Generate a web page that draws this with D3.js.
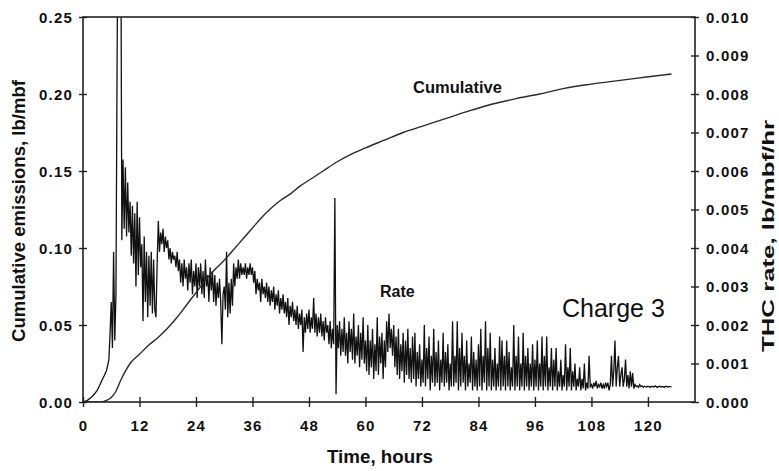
<!DOCTYPE html>
<html>
<head>
<meta charset="utf-8">
<script src="https://cdn.jsdelivr.net/npm/d3@7"></script>
<style>
  html, body { margin: 0; padding: 0; background: #fff; }
  svg { display: block; }
  text { font-family: "Liberation Sans", Arial, Helvetica, sans-serif; fill: #111; }
</style>
</head>
<body>
<svg id="chart" width="779" height="471"></svg>
<script>
// ---------- DATA ----------
const xTicks = [0, 12, 24, 36, 48, 60, 72, 84, 96, 108, 120];
const leftTicks = [0, 0.05, 0.10, 0.15, 0.20, 0.25];
const rightTicks = [0, 0.001, 0.002, 0.003, 0.004, 0.005, 0.006, 0.007, 0.008, 0.009, 0.010];

// Cumulative emissions (lb/mbf) vs time (hours)
const cumTime = [0, 4, 5, 6, 7, 8, 9, 10, 12, 14, 16, 18, 20, 22, 24, 26, 28, 30, 32, 34, 36, 38, 40, 42, 44, 46, 48, 51, 54, 57, 60, 64, 68, 72, 77, 82, 87, 92, 97, 102, 107, 112, 117, 121, 125];
const cumValue = [0, 0, 0.001, 0.003, 0.007, 0.014, 0.020, 0.025, 0.031, 0.037, 0.042, 0.048, 0.055, 0.063, 0.071, 0.079, 0.086, 0.092, 0.099, 0.106, 0.113, 0.120, 0.126, 0.131, 0.135, 0.140, 0.144, 0.150, 0.156, 0.161, 0.165, 0.170, 0.175, 0.179, 0.184, 0.189, 0.1935, 0.197, 0.200, 0.2035, 0.206, 0.208, 0.210, 0.2115, 0.213];

// THC rate, in units of 0.001 lb/mbf/hr
// early smooth rise
const rateEarlyTime = [0, 0.5, 1, 1.5, 2, 2.5, 3, 3.5, 4, 4.5, 5];
const rateEarly = [0, 0.02, 0.05, 0.10, 0.15, 0.22, 0.30, 0.42, 0.56, 0.68, 0.82];
// logged readings every 0.25 h from 5.5 h to 125 h
const rateStart = 5.5, rateStep = 0.25;
const rateLogged = [
  1.1, 1.8, 2.6, 1.4, 3.9, 1.6, 2.8, 9, 14, 14, 14, 4.2, 6.3, 4.5, 6.1, 4.3, 5.7, 4.4, 5.2, 3.8,
  5.1, 3.6, 4.9, 3.0, 5.2, 3.3, 4.8, 3.5, 4.1, 2.1, 4.3, 2.6, 3.9, 2.2, 3.8, 2.5, 3.9, 2.3, 3.7, 2.4,
  2.2, 3.6, 4.7, 3.9, 4.4, 4.1, 4.5, 3.9, 4.3, 4.0, 4.2, 3.7, 4.0, 3.6, 3.9, 3.7, 3.8, 3.5, 3.9, 3.4,
  3.7, 3.1, 3.6, 3.0, 3.7, 3.2, 3.5, 2.9, 3.6, 3.1, 3.7, 2.8, 3.4, 3.0, 3.6, 2.7, 3.5, 3.0, 3.6, 2.8,
  3.4, 2.7, 3.7, 3.0, 3.3, 2.6, 3.5, 2.9, 3.4, 2.6, 3.3, 2.5, 3.1, 2.7, 3.2, 2.6, 1.5, 2.8, 3.0, 2.4,
  3.9, 2.2, 3.1, 2.3, 3.2, 2.5, 3.6, 3.0, 3.5, 3.2, 3.7, 3.2, 3.6, 3.3, 3.5, 3.3, 3.6, 3.2, 3.5, 3.3,
  3.6, 3.3, 3.5, 3.1, 3.4, 2.8, 3.2, 2.9, 3.1, 2.6, 3.2, 2.8, 3.0, 2.7, 3.1, 2.6, 3.0, 2.5, 2.9, 2.6,
  3.0, 2.4, 2.8, 2.5, 2.9, 2.3, 2.7, 2.4, 2.8, 2.3, 2.6, 2.2, 2.7, 2.0, 2.5, 2.2, 2.6, 2.1, 2.4, 2.0,
  2.5, 1.9, 2.3, 2.0, 2.4, 1.3, 2.2, 1.8, 2.3, 1.9, 2.4, 1.8, 2.2, 1.9, 2.7, 1.8, 2.3, 1.7, 2.2, 1.8,
  2.3, 1.7, 2.1, 1.6, 2.2, 1.8, 2.0, 1.5, 2.1, 1.4, 1.9, 1.5, 5.3, 0.2, 2.0, 1.4, 2.1, 1.2, 1.9, 1.3,
  2.2, 1.2, 1.8, 1.0, 2.1, 1.3, 1.9, 1.1, 2.3, 1.0, 1.7, 1.2, 2.0, 0.9, 1.8, 1.1, 2.2, 1.0, 1.6, 0.8,
  2.0, 0.7, 1.6, 0.9, 1.9, 0.6, 1.5, 0.8, 2.2, 0.7, 1.7, 1.0, 1.8, 0.6, 1.6, 0.9, 2.1, 1.3, 2.3, 1.4,
  1.9, 1.2, 2.0, 0.9, 1.7, 0.7, 1.9, 0.6, 1.5, 0.8, 1.8, 0.5, 1.6, 0.7, 1.9, 0.6, 1.4, 0.5, 1.7, 0.6,
  1.8, 0.4, 1.3, 0.6, 1.5, 0.4, 1.1, 0.5, 2.0, 0.4, 1.4, 0.6, 1.7, 0.3, 1.2, 0.5, 1.9, 0.4, 1.3, 0.5,
  1.6, 0.3, 1.1, 0.5, 1.8, 0.4, 1.3, 0.5, 1.5, 0.3, 1.0, 0.4, 2.1, 0.4, 1.2, 0.5, 2.1, 0.3, 1.4, 0.4,
  1.8, 0.5, 1.2, 0.3, 1.6, 0.4, 1.0, 0.5, 1.7, 0.3, 1.3, 0.4, 1.1, 0.3, 1.5, 0.4, 1.9, 0.3, 1.2, 0.5,
  2.1, 0.3, 1.4, 0.4, 1.8, 0.3, 1.1, 0.4, 1.4, 0.3, 1.0, 0.4, 1.7, 0.3, 1.6, 0.4, 1.2, 0.3, 1.6, 0.4,
  1.3, 0.3, 0.9, 0.4, 2.0, 0.3, 1.2, 0.4, 1.7, 0.3, 1.0, 0.4, 1.8, 0.3, 1.2, 0.4, 1.4, 0.3, 1.0, 0.4,
  1.5, 0.3, 1.1, 0.4, 1.6, 0.3, 1.0, 0.4, 1.7, 0.3, 1.2, 0.4, 1.7, 0.3, 0.9, 0.4, 1.4, 0.3, 1.1, 0.4,
  1.4, 0.3, 0.8, 0.4, 1.1, 0.3, 0.7, 0.4, 1.5, 0.3, 0.9, 0.4, 1.4, 0.3, 0.8, 0.4, 1.0, 0.3, 0.6, 0.4,
  0.9, 0.3, 0.6, 0.35, 1.0, 0.3, 0.5, 0.35, 1.2, 0.4, 0.45, 0.35, 0.5, 0.4, 0.55, 0.35, 0.45, 0.4, 0.5, 0.35,
  0.45, 0.35, 0.5, 0.4, 0.5, 0.3, 0.45, 1.2, 0.4, 0.8, 1.6, 0.4, 0.9, 1.2, 0.4, 0.7, 0.9, 0.4, 0.6, 1.1,
  0.4, 0.7, 0.35, 0.8, 0.4, 0.75, 0.35, 0.45, 0.4, 0.42, 0.38, 0.45, 0.4, 0.42, 0.38, 0.41, 0.4, 0.39, 0.41, 0.4,
  0.38, 0.41, 0.4, 0.39, 0.42, 0.4, 0.38, 0.4, 0.41, 0.39, 0.4, 0.4, 0.38, 0.41, 0.4, 0.39, 0.4, 0.4, 0.4
];

// ---------- LAYOUT ----------
const svg = d3.select("#chart");
const M = { left: 83, right: 695, top: 17, bottom: 402 };

const x = d3.scaleLinear().domain([0, 130]).range([M.left, M.right]);
const yL = d3.scaleLinear().domain([0, 0.25]).range([M.bottom, M.top]);
const yR = d3.scaleLinear().domain([0, 0.010]).range([M.bottom, M.top]);

svg.append("defs").append("clipPath").attr("id", "plotClip")
  .append("rect").attr("x", M.left).attr("y", M.top)
  .attr("width", M.right - M.left).attr("height", M.bottom - M.top);

// ---------- SERIES ----------
const rateData = rateEarlyTime.map((t, i) => [t, rateEarly[i] / 1000])
  .concat(rateLogged.map((v, i) => [rateStart + i * rateStep, v / 1000]));
const cumData = cumTime.map((t, i) => [t, cumValue[i]]);

const gPlot = svg.append("g").attr("clip-path", "url(#plotClip)");

gPlot.append("path")
  .datum(rateData)
  .attr("fill", "none")
  .attr("stroke", "#111")
  .attr("stroke-width", 1.3)
  .attr("d", d3.line().x(d => x(d[0])).y(d => yR(d[1])));

gPlot.append("path")
  .datum(cumData)
  .attr("fill", "none")
  .attr("stroke", "#2a2a2a")
  .attr("stroke-width", 1.4)
  .attr("d", d3.line().x(d => x(d[0])).y(d => yL(d[1])).curve(d3.curveMonotoneX));

// ---------- AXES ----------
const tickFont = "bold 15px 'Liberation Sans', Arial, sans-serif";

const axL = d3.axisLeft(yL).tickValues(leftTicks).tickSizeInner(4).tickSizeOuter(0)
  .tickPadding(8).tickFormat(d3.format(".2f"));
const gL = svg.append("g").attr("transform", `translate(${M.left},0)`).call(axL);

const axR = d3.axisRight(yR).tickValues(rightTicks).tickSizeInner(4).tickSizeOuter(0)
  .tickPadding(8).tickFormat(d3.format(".3f"));
const gR = svg.append("g").attr("transform", `translate(${M.right},0)`).call(axR);

const axB = d3.axisBottom(x).tickValues(xTicks).tickSizeInner(5).tickSizeOuter(0)
  .tickPadding(16).tickFormat(d3.format("d"));
const gB = svg.append("g").attr("transform", `translate(0,${M.bottom})`).call(axB);

[gL, gR, gB].forEach(g => {
  g.select(".domain").remove();
  g.selectAll(".tick line").attr("stroke", "#222").attr("stroke-width", 1.4);
  g.selectAll(".tick text")
    .style("font", tickFont)
    .style("letter-spacing", "1.2px")
    .attr("fill", "#111");
});
gL.selectAll(".tick line").attr("x1", 4).attr("x2", -4);
gR.selectAll(".tick line").attr("x1", -4).attr("x2", 4);
gB.selectAll(".tick line").attr("y1", -5).attr("y2", 5);
gL.selectAll(".tick text").attr("dy", "0.34em").attr("x", -10);
gR.selectAll(".tick text").attr("dy", "0.34em").attr("x", 11);
gB.selectAll(".tick text").attr("dy", "0").attr("y", 29);

// frame
svg.append("rect")
  .attr("x", M.left).attr("y", M.top)
  .attr("width", M.right - M.left).attr("height", M.bottom - M.top)
  .attr("fill", "none").attr("stroke", "#222").attr("stroke-width", 1.6);

// ---------- TITLES & LABELS ----------
svg.append("text")
  .attr("x", 380).attr("y", 463)
  .attr("text-anchor", "middle")
  .style("font", "bold 18px 'Liberation Sans', Arial, sans-serif")
  .attr("textLength", 106).attr("lengthAdjust", "spacingAndGlyphs")
  .text("Time, hours");

svg.append("text")
  .attr("transform", "translate(25,211) rotate(-90)")
  .attr("text-anchor", "middle")
  .style("font", "bold 18px 'Liberation Sans', Arial, sans-serif")
  .attr("textLength", 262).attr("lengthAdjust", "spacingAndGlyphs")
  .text("Cumulative emissions, lb/mbf");

svg.append("text")
  .attr("transform", "translate(774,236) rotate(-90)")
  .attr("text-anchor", "middle")
  .style("font", "bold 17px 'Liberation Sans', Arial, sans-serif")
  .attr("textLength", 232).attr("lengthAdjust", "spacingAndGlyphs")
  .text("THC rate, lb/mbf/hr");

svg.append("text")
  .attr("x", 413).attr("y", 93)
  .style("font", "bold 16.5px 'Liberation Sans', Arial, sans-serif")
  .text("Cumulative");

svg.append("text")
  .attr("x", 380).attr("y", 297)
  .style("font", "bold 16px 'Liberation Sans', Arial, sans-serif")
  .text("Rate");

svg.append("text")
  .attr("x", 562).attr("y", 317)
  .style("font", "25px 'Liberation Sans', Arial, sans-serif")
  .text("Charge 3");
</script>
</body>
</html>
